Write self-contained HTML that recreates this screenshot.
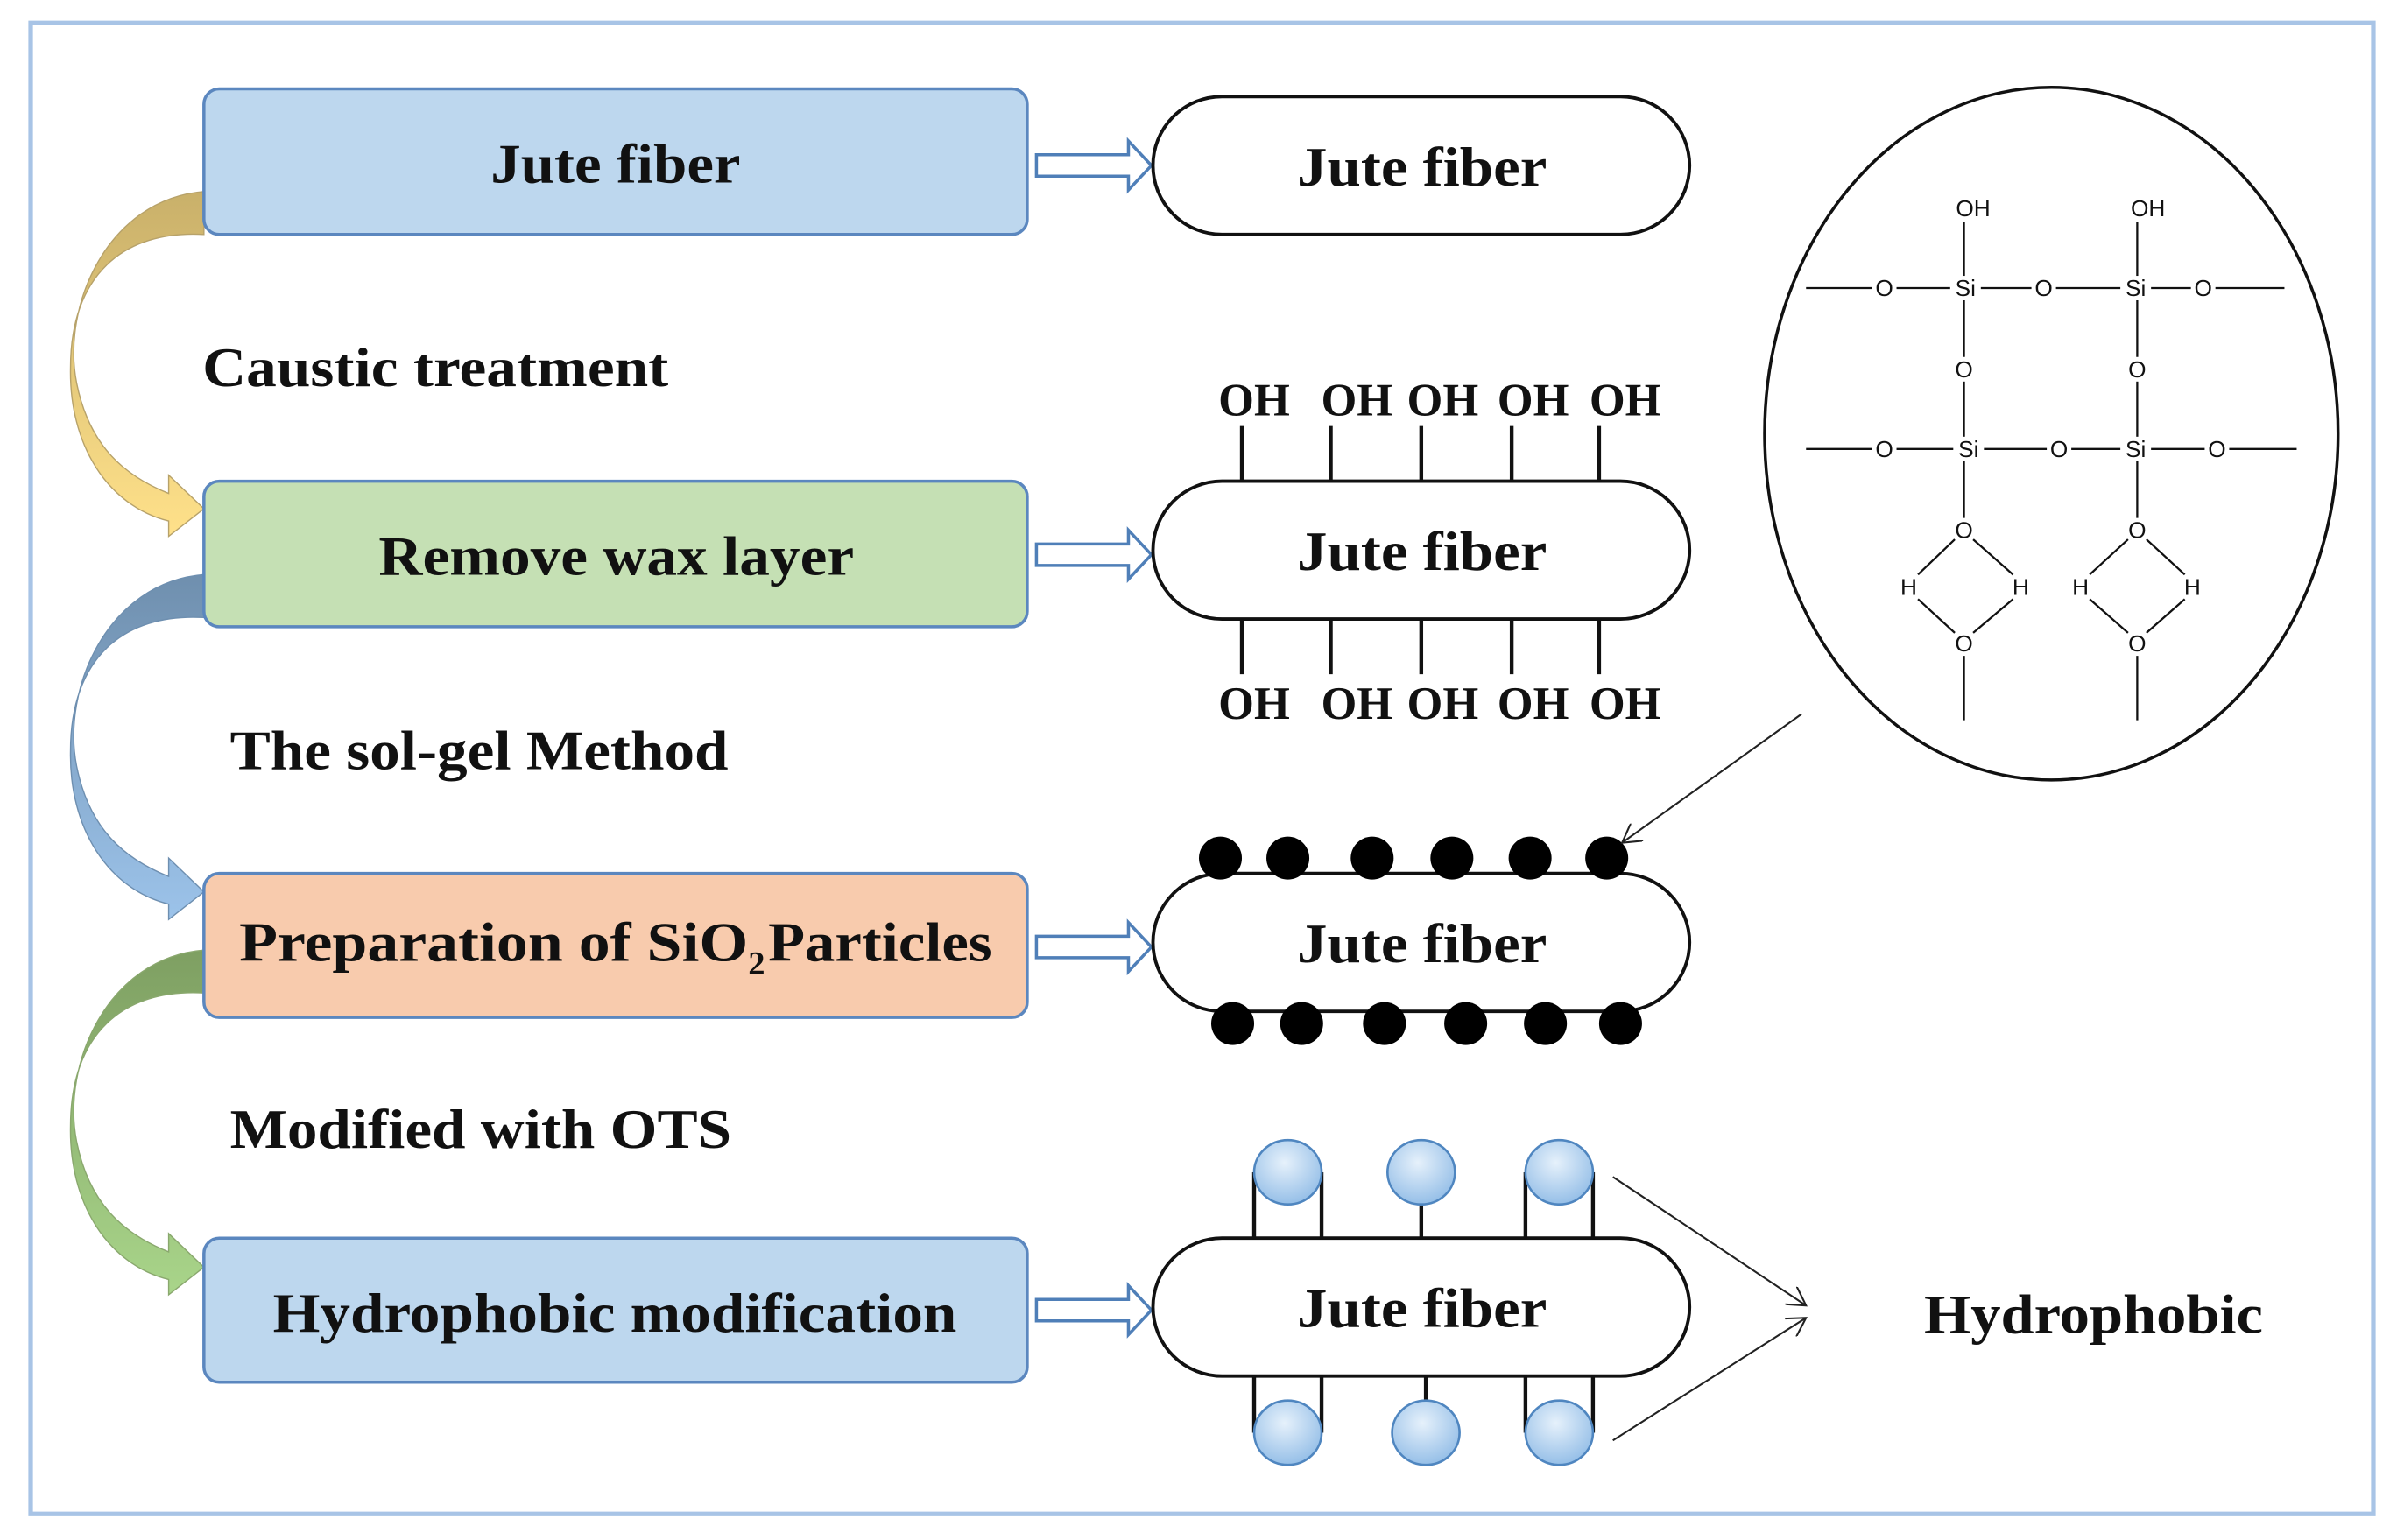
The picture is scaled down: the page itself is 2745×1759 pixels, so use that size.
<!DOCTYPE html>
<html><head><meta charset="utf-8"><style>
html,body{margin:0;padding:0;background:#fff;}
svg{display:block;}
.t{font-family:"Liberation Serif",serif;font-weight:bold;fill:#111;}
.c{font-family:"Liberation Sans",sans-serif;font-size:15px;fill:#111;text-anchor:middle;dominant-baseline:central;}
</style></head><body>
<svg width="2745" height="1759" viewBox="0 0 1568 1005" preserveAspectRatio="none" xmlns="http://www.w3.org/2000/svg">
<defs>
<linearGradient id="g1" x1="0" y1="0" x2="0" y2="1"><stop offset="0" stop-color="#c9b06a"/><stop offset="1" stop-color="#ffe18a"/></linearGradient>
<linearGradient id="g2" x1="0" y1="0" x2="0" y2="1"><stop offset="0" stop-color="#6f8fae"/><stop offset="1" stop-color="#9cc3ea"/></linearGradient>
<linearGradient id="g3" x1="0" y1="0" x2="0" y2="1"><stop offset="0" stop-color="#7e9f62"/><stop offset="1" stop-color="#a9d58a"/></linearGradient>
<radialGradient id="bl" cx="0.45" cy="0.35" r="0.7"><stop offset="0" stop-color="#e6f1fb"/><stop offset="1" stop-color="#8fbbe6"/></radialGradient>
<marker id="oa" markerWidth="14" markerHeight="14" refX="12" refY="7" orient="auto" markerUnits="userSpaceOnUse"><path d="M0,0 L12,7 L0,14" fill="none" stroke="#222" stroke-width="1.2"/></marker>
</defs>
<rect x="20" y="15" width="1528" height="973" fill="#fff" stroke="#a8c4e6" stroke-width="3"/>

<g stroke="#6e8fb0" stroke-width="0.8">
<path d="M133,125 C70,130 40,200 50,250 C58,290 80,310 110,322 L110,310 L133,332 L110,350 L110,340 C70,330 45,290 46,240 C46,180 80,150 133,153 Z" fill="url(#g1)" stroke="#b7a26a"/>
<path d="M133,375 C70,380 40,450 50,500 C58,540 80,560 110,572 L110,560 L133,582 L110,600 L110,590 C70,580 45,540 46,490 C46,430 80,400 133,403 Z" fill="url(#g2)"/>
<path d="M133,620 C70,625 40,695 50,745 C58,785 80,805 110,817 L110,805 L133,827 L110,845 L110,835 C70,825 45,785 46,735 C46,675 80,645 133,648 Z" fill="url(#g3)" stroke="#8aa86e"/>
</g>

<g stroke="#5b87bf" stroke-width="2">
<rect x="133" y="58" width="537" height="95" rx="10" fill="#bdd7ee"/>
<rect x="133" y="314" width="537" height="95" rx="10" fill="#c5e0b4"/>
<rect x="133" y="570" width="537" height="94" rx="10" fill="#f8cbad"/>
<rect x="133" y="808" width="537" height="94" rx="10" fill="#bdd7ee"/>
</g>
<g class="t" font-size="36" lengthAdjust="spacingAndGlyphs">
<text x="320" y="119" textLength="163" lengthAdjust="spacingAndGlyphs">Jute fiber</text>
<text x="247" y="375" textLength="310" lengthAdjust="spacingAndGlyphs">Remove wax layer</text>
<text x="156" y="627" textLength="332" lengthAdjust="spacingAndGlyphs">Preparation of SiO</text>
<text x="488" y="636" font-size="22">2</text>
<text x="501" y="627" textLength="146" lengthAdjust="spacingAndGlyphs">Particles</text>
<text x="178" y="869" textLength="446" lengthAdjust="spacingAndGlyphs">Hydrophobic modification</text>
<text x="846" y="121" textLength="163" lengthAdjust="spacingAndGlyphs">Jute fiber</text>
<text x="846" y="372" textLength="163" lengthAdjust="spacingAndGlyphs">Jute fiber</text>
<text x="846" y="628" textLength="163" lengthAdjust="spacingAndGlyphs">Jute fiber</text>
<text x="846" y="866" textLength="163" lengthAdjust="spacingAndGlyphs">Jute fiber</text>
<text x="132" y="252" textLength="304" lengthAdjust="spacingAndGlyphs">Caustic treatment</text>
<text x="150" y="502" textLength="325" lengthAdjust="spacingAndGlyphs">The sol-gel Method</text>
<text x="150" y="749" textLength="327" lengthAdjust="spacingAndGlyphs">Modified with OTS</text>
<text x="1255" y="870" textLength="221" lengthAdjust="spacingAndGlyphs">Hydrophobic</text>
</g>

<g fill="#fff" stroke="#4f7fb8" stroke-width="2">
<path d="M676,101 L736,101 L736,92 L751,108 L736,124 L736,115 L676,115 Z"/>
<path d="M676,355 L736,355 L736,346 L751,362 L736,378 L736,369 L676,369 Z"/>
<path d="M676,611 L736,611 L736,602 L751,618 L736,634 L736,625 L676,625 Z"/>
<path d="M676,848 L736,848 L736,839 L751,855 L736,871 L736,862 L676,862 Z"/>
</g>

<g fill="#fff" stroke="#111" stroke-width="2.2">
<rect x="752" y="63" width="350" height="90" rx="45"/>
<rect x="752" y="314" width="350" height="90" rx="45"/>
<rect x="752" y="570" width="350" height="90" rx="45"/>
<rect x="752" y="808" width="350" height="90" rx="45"/>
</g>
<g class="t" font-size="36">
<text x="846" y="121" textLength="163" lengthAdjust="spacingAndGlyphs">Jute fiber</text>
<text x="846" y="372" textLength="163" lengthAdjust="spacingAndGlyphs">Jute fiber</text>
<text x="846" y="628" textLength="163" lengthAdjust="spacingAndGlyphs">Jute fiber</text>
<text x="846" y="866" textLength="163" lengthAdjust="spacingAndGlyphs">Jute fiber</text>
</g>

<g stroke="#111" stroke-width="2.5">
<line x1="810" y1="278" x2="810" y2="314"/><line x1="868" y1="278" x2="868" y2="314"/><line x1="927" y1="278" x2="927" y2="314"/><line x1="986" y1="278" x2="986" y2="314"/><line x1="1043" y1="278" x2="1043" y2="314"/>
<line x1="810" y1="404" x2="810" y2="440"/><line x1="868" y1="404" x2="868" y2="440"/><line x1="927" y1="404" x2="927" y2="440"/><line x1="986" y1="404" x2="986" y2="440"/><line x1="1043" y1="404" x2="1043" y2="440"/>
</g>
<g class="t" font-size="30" text-anchor="middle">
<text x="818" y="271">OH</text><text x="885" y="271">OH</text><text x="941" y="271">OH</text><text x="1000" y="271">OH</text><text x="1060" y="271">OH</text>
<text x="818" y="469">OH</text><text x="885" y="469">OH</text><text x="941" y="469">OH</text><text x="1000" y="469">OH</text><text x="1060" y="469">OH</text>
</g>

<g fill="#000">
<circle cx="796" cy="560" r="14"/><circle cx="840" cy="560" r="14"/><circle cx="895" cy="560" r="14"/><circle cx="947" cy="560" r="14"/><circle cx="998" cy="560" r="14"/><circle cx="1048" cy="560" r="14"/>
<circle cx="804" cy="668" r="14"/><circle cx="849" cy="668" r="14"/><circle cx="903" cy="668" r="14"/><circle cx="956" cy="668" r="14"/><circle cx="1008" cy="668" r="14"/><circle cx="1057" cy="668" r="14"/>
</g>

<g stroke="#111" stroke-width="2.5">
<line x1="818" y1="765" x2="818" y2="808"/><line x1="862" y1="765" x2="862" y2="808"/>
<line x1="927" y1="780" x2="927" y2="808"/>
<line x1="995" y1="765" x2="995" y2="808"/><line x1="1039" y1="765" x2="1039" y2="808"/>
<line x1="818" y1="898" x2="818" y2="935"/><line x1="862" y1="898" x2="862" y2="935"/>
<line x1="930" y1="898" x2="930" y2="918"/>
<line x1="995" y1="898" x2="995" y2="935"/><line x1="1039" y1="898" x2="1039" y2="935"/>
</g>
<g fill="url(#bl)" stroke="#4f86c0" stroke-width="1.5">
<ellipse cx="840" cy="765" rx="22" ry="21"/><ellipse cx="927" cy="765" rx="22" ry="21"/><ellipse cx="1017" cy="765" rx="22" ry="21"/>
<ellipse cx="840" cy="935" rx="22" ry="21"/><ellipse cx="930" cy="935" rx="22" ry="21"/><ellipse cx="1017" cy="935" rx="22" ry="21"/>
</g>

<g stroke="#222" stroke-width="1.2" fill="none">
<line x1="1175" y1="466" x2="1058" y2="550" marker-end="url(#oa)"/>
<line x1="1052" y1="768" x2="1178" y2="852" marker-end="url(#oa)"/>
<line x1="1052" y1="940" x2="1178" y2="860" marker-end="url(#oa)"/>
</g>

<ellipse cx="1338" cy="283" rx="187" ry="226" fill="none" stroke="#111" stroke-width="2"/>
<g stroke="#111" stroke-width="1.3">
<line x1="1178" y1="188" x2="1221" y2="188"/><line x1="1237" y1="188" x2="1272" y2="188"/><line x1="1292" y1="188" x2="1325" y2="188"/><line x1="1341" y1="188" x2="1383" y2="188"/><line x1="1403" y1="188" x2="1429" y2="188"/><line x1="1445" y1="188" x2="1490" y2="188"/>
<line x1="1178" y1="293" x2="1221" y2="293"/><line x1="1237" y1="293" x2="1274" y2="293"/><line x1="1294" y1="293" x2="1335" y2="293"/><line x1="1351" y1="293" x2="1383" y2="293"/><line x1="1403" y1="293" x2="1438" y2="293"/><line x1="1454" y1="293" x2="1498" y2="293"/>
<line x1="1281" y1="145" x2="1281" y2="180"/><line x1="1394" y1="145" x2="1394" y2="180"/>
<line x1="1281" y1="196" x2="1281" y2="233"/><line x1="1394" y1="196" x2="1394" y2="233"/>
<line x1="1281" y1="249" x2="1281" y2="285"/><line x1="1394" y1="249" x2="1394" y2="285"/>
<line x1="1281" y1="301" x2="1281" y2="338"/><line x1="1394" y1="301" x2="1394" y2="338"/>
<line x1="1275" y1="352" x2="1251" y2="375"/><line x1="1287" y1="352" x2="1313" y2="375"/><line x1="1251" y1="391" x2="1275" y2="413"/><line x1="1313" y1="391" x2="1287" y2="413"/>
<line x1="1388" y1="352" x2="1363" y2="375"/><line x1="1400" y1="352" x2="1425" y2="375"/><line x1="1363" y1="391" x2="1388" y2="413"/><line x1="1425" y1="391" x2="1400" y2="413"/>
<line x1="1281" y1="428" x2="1281" y2="470"/><line x1="1394" y1="428" x2="1394" y2="470"/>
</g>
<g class="c">
<text x="1287" y="136">OH</text><text x="1401" y="136">OH</text>
<text x="1229" y="188">O</text><text x="1282" y="188">Si</text><text x="1333" y="188">O</text><text x="1393" y="188">Si</text><text x="1437" y="188">O</text>
<text x="1281" y="241">O</text><text x="1394" y="241">O</text>
<text x="1229" y="293">O</text><text x="1284" y="293">Si</text><text x="1343" y="293">O</text><text x="1393" y="293">Si</text><text x="1446" y="293">O</text>
<text x="1281" y="346">O</text><text x="1394" y="346">O</text>
<text x="1245" y="383">H</text><text x="1318" y="383">H</text><text x="1357" y="383">H</text><text x="1430" y="383">H</text>
<text x="1281" y="420">O</text><text x="1394" y="420">O</text>
</g>
</svg>
</body></html>
